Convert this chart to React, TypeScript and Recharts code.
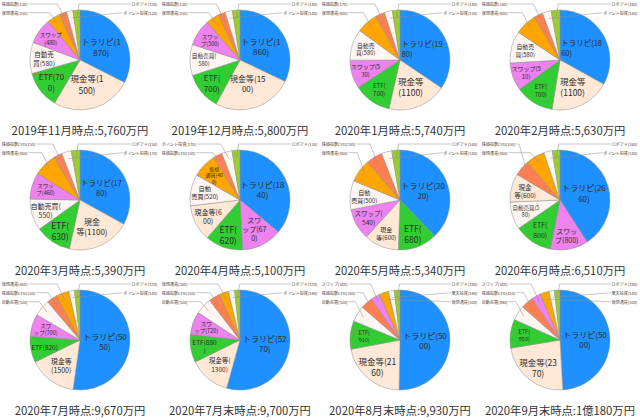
import { Cell, Pie, PieChart } from "recharts";

const TITLES = [
  "2019年11月時点:5,760万円",
  "2019年12月時点:5,800万円",
  "2020年1月時点:5,740万円",
  "2020年2月時点:5,630万円",
  "2020年3月時点:5,390万円",
  "2020年4月時点:5,100万円",
  "2020年5月時点:5,340万円",
  "2020年6月時点:6,510万円",
  "2020年7月時点:9,670万円",
  "2020年7月末時点:9,700万円",
  "2020年8月末時点:9,930万円",
  "2020年9月末時点:1億180万円",
];

// slice order, clockwise from the top
const NAMES_NOV = ["トラリピ", "現金等", "ETF", "自動売買", "スワップ", "仮想通貨", "株価指数", "ポイント投資", "ロボアド"];
const NAMES_JAN = ["トラリピ", "現金等", "ETF", "スワップ", "自動売買", "仮想通貨", "株価指数", "ポイント投資", "ロボアド"];
const NAMES_APR = ["トラリピ", "スワップ", "ETF", "現金等", "自動売買", "仮想通貨", "株価指数", "ポイント投資", "ロボアド"];
const NAMES_MAY = ["トラリピ", "ETF", "現金等", "スワップ", "自動売買", "仮想通貨", "株価指数", "ポイント投資", "ロボアド"];
const NAMES_JUN = ["トラリピ", "スワップ", "ETF", "自動売買", "現金等", "株価指数", "仮想通貨", "ポイント投資", "ロボアド"];
const NAMES_JUL = ["トラリピ", "現金等", "ETF", "スワップ", "自動売買", "株価指数", "仮想通貨", "ポイント投資", "ロボアド"];
const NAMES_AUG = ["トラリピ", "現金等", "ETF", "自動売買", "株価指数", "スワップ", "仮想通貨", "ポイント投資", "ロボアド"];

const NAME_ORDERS = [NAMES_NOV, NAMES_NOV, NAMES_JAN, NAMES_JAN, NAMES_NOV, NAMES_APR, NAMES_MAY, NAMES_JUN, NAMES_JUL, NAMES_JUL, NAMES_AUG, NAMES_AUG];

const VALUES = [
  [1870, 1500, 700, 580, 480, 250, 130, 120, 130],
  [1860, 1500, 700, 580, 500, 250, 130, 140, 140],
  [1980, 1100, 700, 530, 580, 400, 170, 150, 140],
  [1860, 1100, 700, 510, 580, 400, 160, 160, 160],
  [1780, 1100, 630, 550, 460, 400, 150, 170, 150],
  [1840, 670, 620, 600, 520, 400, 150, 170, 130],
  [2020, 680, 600, 540, 500, 400, 280, 180, 140],
  [2660, 800, 800, 580, 600, 330, 400, 180, 160],
  [5050, 1500, 820, 700, 520, 330, 400, 180, 170],
  [5270, 1300, 880, 720, 520, 350, 300, 190, 170],
  [5000, 2160, 910, 520, 380, 300, 300, 190, 180],
  [5000, 2370, 950, 490, 410, 300, 300, 180, 180],
];

// "|" is where the label wraps
const LABELS = [
  ["トラリピ(1|870)", "現金等(1|500)", "ETF(70|0)", "自動売|買(580)", "スワップ|(480)", "仮想通貨(250)", "株価指数(130)", "ポイント投資(120)", "ロボアド(130)"],
  ["トラリピ(1|860)", "現金等(15|00)", "ETF(|700)", "自動売買(|580)", "スワッ|プ(500)", "仮想通貨(250)", "株価指数(130)", "ポイント投資(140)", "ロボアド(140)"],
  ["トラリピ(19|80)", "現金等|(1100)", "ETF(|700)", "スワップ(5|30)", "自動売|買(580)", "仮想通貨(400)", "株価指数(170)", "ポイント投資(150)", "ロボアド(140)"],
  ["トラリピ(18|60)", "現金等|(1100)", "ETF(|700)", "スワップ(5|10)", "自動売|買(580)", "仮想通貨(400)", "株価指数(160)", "ポイント投資(160)", "ロボアド(160)"],
  ["トラリピ(17|80)", "現金|等(1100)", "ETF(|630)", "自動売買(|550)", "スワッ|プ(460)", "仮想通貨(400)", "株価指数CFD(150)", "ポイント投資(170)", "ロボアド(150)"],
  ["トラリピ(18|40)", "スワ|ップ(67|0)", "ETF(|620)", "現金等(6|00)", "自動|売買(520)", "仮想|通貨(40|0)", "株価指数CFD(150)", "ポイント投資(170)", "ロボアド(130)"],
  ["トラリピ(20|20)", "ETF(|680)", "現金|等(600)", "スワップ(|540)", "自動|売買(500)", "仮想通貨(400)", "株価指数CFD(280)", "ポイント投資(180)", "ロボアド(140)"],
  ["トラリピ(26|60)", "スワッ|プ(800)", "ETF(|800)", "自動売買(5|80)", "現金|等(600)", "株価指数CFD(330)", "仮想通貨(400)", "ポイント投資(180)", "ロボアド(160)"],
  ["トラリピ(50|50)", "現金等|(1500)", "ETF(820)", "スワ|ップ(700)", "自動売買(520)", "株価指数CFD(330)", "仮想通貨(400)", "ポイント投資(180)", "ロボアド(170)"],
  ["トラリピ(52|70)", "現金等(|1300)", "ETF(880|)", "スワ|ップ(720)", "自動売買(520)", "株価指数CFD(350)", "仮想通貨(300)", "ポイント投資(190)", "ロボアド(170)"],
  ["トラリピ(50|00)", "現金等(21|60)", "ETF(|910)", "自動売買(520)", "株価指数CFD(380)", "スワップ(300)", "仮想通貨(300)", "楽天投資(190)", "ロボアド(180)"],
  ["トラリピ(50|00)", "現金等(23|70)", "ETF(|950)", "自動売買(490)", "株価指数CFD(410)", "スワップ(300)", "仮想通貨(300)", "楽天投資(180)", "ロボアド(180)"],
];

const COLORS: Record<string, string> = {
  トラリピ: "#1e90ff",
  現金等: "#ffe9d6",
  ETF: "#32cd32",
  自動売買: "#fff6f4",
  スワップ: "#ee82ee",
  仮想通貨: "#ffa500",
  株価指数: "#ff7f50",
  ポイント投資: "#fff8f0",
  ロボアド: "#9acd32",
};

// layout only: font size of the slice labels, and which outside slot a slice uses
const FONT_SIZES = [
  [8, 8.5, 8, 6.5, 5.5],
  [8, 8, 8, 5.6, 5.5],
  [7.5, 8.5, 6, 6, 5.8],
  [7.5, 8.5, 6, 6, 5.8],
  [7.5, 8, 8.5, 7, 5.5],
  [8, 7, 8.5, 7, 6.2, 5],
  [8, 8.5, 6, 6.5, 6],
  [8, 7, 7, 5.5, 6.5],
  [8, 7, 6.5, 5.5],
  [8, 6.5, 6.5, 5.5],
  [8, 8.5, 5.5],
  [8, 8.5, 5.5],
];

type Slot = "L0" | "L1" | "L2" | "R0" | "R1" | "R2";

const SLOTS: Record<number, Slot>[] = [
  { 5: "L1", 6: "L0", 7: "R1", 8: "R0" },
  { 5: "L1", 6: "L0", 7: "R1", 8: "R0" },
  { 5: "L1", 6: "L0", 7: "R1", 8: "R0" },
  { 5: "L1", 6: "L0", 7: "R1", 8: "R0" },
  { 5: "L1", 6: "L0", 7: "R1", 8: "R0" },
  { 6: "L1", 7: "L0", 8: "R0" },
  { 5: "L1", 6: "L0", 7: "R1", 8: "R0" },
  { 5: "L0", 6: "L1", 7: "R1", 8: "R0" },
  { 4: "L2", 5: "L1", 6: "L0", 7: "R1", 8: "R0" },
  { 4: "L2", 5: "L1", 6: "L0", 7: "R1", 8: "R0" },
  { 3: "L2", 4: "L1", 5: "L0", 6: "R2", 7: "R1", 8: "R0" },
  { 3: "L2", 4: "L1", 5: "L0", 6: "R2", 7: "R1", 8: "R0" },
];

// labels that sit off the default radius, as a fraction of the pie radius
const LABEL_RADIUS: Record<string, number> = {
  "10-1": 0.7,
  "11-1": 0.7,
  "5-1": 0.64,
  "8-1": 0.64,
  "9-1": 0.64,
  "2-1": 0.58,
  "3-1": 0.58,
  "4-1": 0.58,
};

// labels whose lines start at the same x instead of being centred
const LEFT_ALIGNED = new Set(["1-2", "2-0", "3-0", "2-2", "3-2"]);

const CELL_W = 160;
const CELL_H = 140;
const RADIAN = Math.PI / 180;
const SLOT_Y = [4, 12.7, 21.7];
const LEFT_X = 1.7;
const RIGHT_X = 157.5;
const SMALL_FONT = 4.1;

// rough width of a string in em, good enough to start a leader line beside it
function textWidth(text: string, fontSize: number) {
  let em = 0;
  for (const ch of text) {
    if (/[0-9]/.test(ch)) em += 0.55;
    else if (/[()]/.test(ch)) em += 0.33;
    else if (/[A-Z]/.test(ch)) em += 0.6;
    else em += 1;
  }
  return em * fontSize;
}

function makeLabel(chartIndex: number) {
  return function SliceLabel(props: any) {
    const { cx, cy, midAngle, outerRadius, percent, index } = props;
    const text: string = LABELS[chartIndex][index];
    const slot = SLOTS[chartIndex][index];
    const sin = Math.sin(-midAngle * RADIAN);
    const cos = Math.cos(-midAngle * RADIAN);

    if (slot) {
      const endX = cx + outerRadius * 0.86 * cos;
      const endY = cy + outerRadius * 0.86 * sin;
      const y = SLOT_Y[Number(slot[1])];
      const left = slot[0] === "L";
      const width = textWidth(text, SMALL_FONT);
      const startX = left ? LEFT_X + width + 1 : RIGHT_X - width - 1;
      let points = `${startX},${y} ${endX},${endY}`;
      if (left) points = `${startX},${y} ${endX - 8},${y} ${endX},${endY}`;
      if (slot === "R0") points = `${startX},${y} ${endX + 2},${y} ${endX},${endY}`;
      return (
        <g>
          <polyline points={points} fill="none" stroke="#8c8c8c" strokeWidth={0.5} />
          <text
            x={left ? LEFT_X : RIGHT_X}
            y={y}
            textAnchor={left ? "start" : "end"}
            dominantBaseline="central"
            fontSize={SMALL_FONT}
            fill="#444"
          >
            {text}
          </text>
        </g>
      );
    }

    const key = `${chartIndex}-${index}`;
    const fontSize = FONT_SIZES[chartIndex][index];
    const lineHeight = fontSize * 1.3;
    const lines = text.split("|");
    const factor = LABEL_RADIUS[key] ?? (percent > 0.2 ? 0.5 : 0.72);
    const x = cx + outerRadius * factor * cos;
    const y = cy + outerRadius * factor * sin;
    const top = y - ((lines.length - 1) * lineHeight) / 2;
    const leftAligned = LEFT_ALIGNED.has(key);
    const startX = x - textWidth(lines[0], fontSize) / 2;
    return (
      <text textAnchor={leftAligned ? "start" : "middle"} fontSize={fontSize} fill="#2b2b2b">
        {lines.map((line, i) => (
          <tspan key={i} x={leftAligned ? startX : x} y={top + i * lineHeight} dominantBaseline="central">
            {line}
          </tspan>
        ))}
      </text>
    );
  };
}

function AssetPie({ chartIndex }: { chartIndex: number }) {
  const names = NAME_ORDERS[chartIndex];
  const data = names.map((name, i) => ({ name, value: VALUES[chartIndex][i] }));
  return (
    <div
      style={{
        position: "absolute",
        left: (chartIndex % 4) * CELL_W,
        top: Math.floor(chartIndex / 4) * CELL_H,
        width: CELL_W,
        height: CELL_H,
      }}
    >
      <PieChart width={CELL_W} height={CELL_H} margin={{ top: 0, right: 0, bottom: 0, left: 0 }}>
        <Pie
          data={data}
          dataKey="value"
          nameKey="name"
          cx={80}
          cy={60}
          outerRadius={50}
          startAngle={90}
          endAngle={-270}
          stroke="#8a8a8a"
          strokeWidth={0.5}
          label={makeLabel(chartIndex)}
          labelLine={false}
          isAnimationActive={false}
        >
          {data.map((d) => (
            <Cell key={d.name} fill={COLORS[d.name]} />
          ))}
        </Pie>
      </PieChart>
      <div
        style={{
          position: "absolute",
          left: 0,
          top: 121,
          width: CELL_W,
          textAlign: "center",
          fontSize: 11.3,
          lineHeight: "18px",
          color: "#333",
          whiteSpace: "nowrap",
        }}
      >
        {TITLES[chartIndex]}
      </div>
    </div>
  );
}

export default function App() {
  return (
    <div
      style={{
        position: "absolute",
        left: 0,
        top: 0,
        width: 640,
        height: 420,
        background: "#fff",
        overflow: "hidden",
        fontFamily: '"Noto Sans CJK JP", sans-serif',
      }}
    >
      {TITLES.map((_, i) => (
        <AssetPie key={i} chartIndex={i} />
      ))}
    </div>
  );
}
